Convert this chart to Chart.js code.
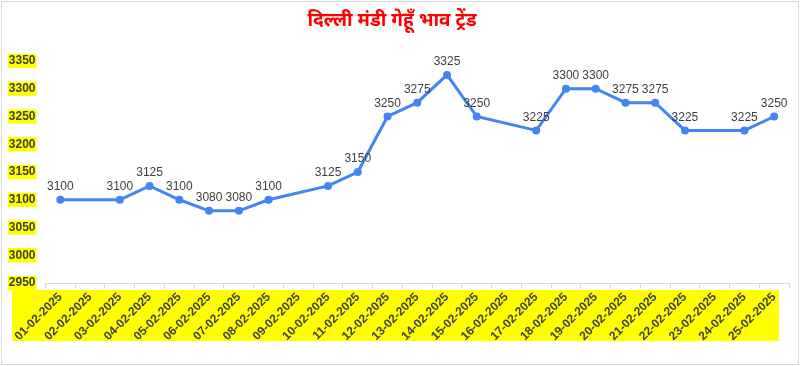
<!DOCTYPE html>
<html>
<head>
<meta charset="utf-8">
<script src="https://cdn.jsdelivr.net/npm/chart.js@4/dist/chart.umd.min.js"></script>
<style>
  body { margin: 0; background: #fff; }
  #wrap { width: 804px; height: 366px; }
</style>
</head>
<body>
<div id="wrap"><canvas id="myChart" width="804" height="366"></canvas></div>
<script>
var titleText = "दिल्ली मंडी गेहूँ भाव ट्रेंड";

var xValues = ["01-02-2025","02-02-2025","03-02-2025","04-02-2025","05-02-2025",
  "06-02-2025","07-02-2025","08-02-2025","09-02-2025","10-02-2025","11-02-2025",
  "12-02-2025","13-02-2025","14-02-2025","15-02-2025","16-02-2025","17-02-2025",
  "18-02-2025","19-02-2025","20-02-2025","21-02-2025","22-02-2025","23-02-2025",
  "24-02-2025","25-02-2025"];
var yValues = [3100,null,3100,3125,3100,3080,3080,3100,null,3125,3150,
  3250,3275,3325,3250,null,3225,3300,3300,3275,3275,3225,null,3225,3250];
var yMin = 2950;
var yMax = 3350;
var yStep = 50;

var lineColor = "#4285f4";
var textColor = "#404040";

// border, title and yellow band behind the dates
var framePlugin = {
  id: "frame",
  beforeDraw: function(chart) {
    var ctx = chart.ctx;
    var xs = chart.scales.x;
    ctx.save();
    ctx.fillStyle = "#ffff00";
    ctx.fillRect(xs.left - 33.5, xs.top + 7, xs.right - xs.left + 23.5, 51);
    ctx.strokeStyle = "#d9d9d9";
    ctx.lineWidth = 1;
    ctx.strokeRect(1.5, 1.5, 797, 363);
    ctx.fillStyle = "#ff0000";
    ctx.font = "bold 19px 'Noto Sans', sans-serif";
    ctx.textAlign = "center";
    ctx.textBaseline = "middle";
    ctx.fillText(titleText, 392, 21);
    ctx.restore();
  }
};

// value labels above each point
var valuePlugin = {
  id: "values",
  afterDatasetsDraw: function(chart) {
    var ctx = chart.ctx;
    var meta = chart.getDatasetMeta(0);
    ctx.save();
    ctx.fillStyle = textColor;
    ctx.font = "12px 'Liberation Sans', Arial, sans-serif";
    ctx.textAlign = "center";
    ctx.textBaseline = "bottom";
    meta.data.forEach(function(pt, i) {
      if (yValues[i] === null) return;
      ctx.fillText(yValues[i], pt.x, pt.y - 7);
    });
    ctx.restore();
  }
};

new Chart("myChart", {
  type: "line",
  data: {
    labels: xValues,
    datasets: [{
      data: yValues,
      borderColor: lineColor,
      backgroundColor: lineColor,
      borderWidth: 3,
      pointRadius: 4,
      pointBackgroundColor: lineColor,
      pointBorderWidth: 0,
      spanGaps: true,
      tension: 0
    }]
  },
  options: {
    responsive: false,
    animation: false,
    layout: { padding: { left: 5, right: 15, top: 61, bottom: 23 } },
    plugins: {
      legend: { display: false },
      title: { display: false },
      tooltip: { enabled: false }
    },
    scales: {
      x: {
        offset: true,
        afterFit: function(scale) { scale.height = 60; },
        grid: {
          drawOnChartArea: false,
          color: "#d9d9d9",
          tickLength: 5,
          offset: true
        },
        border: { color: "#d9d9d9" },
        ticks: {
          autoSkip: false,
          maxRotation: 45,
          minRotation: 45,
          padding: 2,
          color: textColor,
          font: { family: "'Liberation Sans', Arial, sans-serif", size: 12, weight: "bold" }
        }
      },
      y: {
        min: yMin,
        max: yMax,
        afterFit: function(scale) { scale.width = 40.5; },
        grid: { display: false, drawTicks: false },
        border: { display: false },
        ticks: {
          stepSize: yStep,
          padding: 10,
          color: textColor,
          showLabelBackdrop: true,
          backdropColor: "#ffff00",
          backdropPadding: { top: 0, bottom: 0, left: 1, right: 1 },
          font: { family: "'Liberation Sans', Arial, sans-serif", size: 12, weight: "bold" },
          callback: function(v) { return String(v); }
        }
      }
    }
  },
  plugins: [framePlugin, valuePlugin]
});
</script>
</body>
</html>
